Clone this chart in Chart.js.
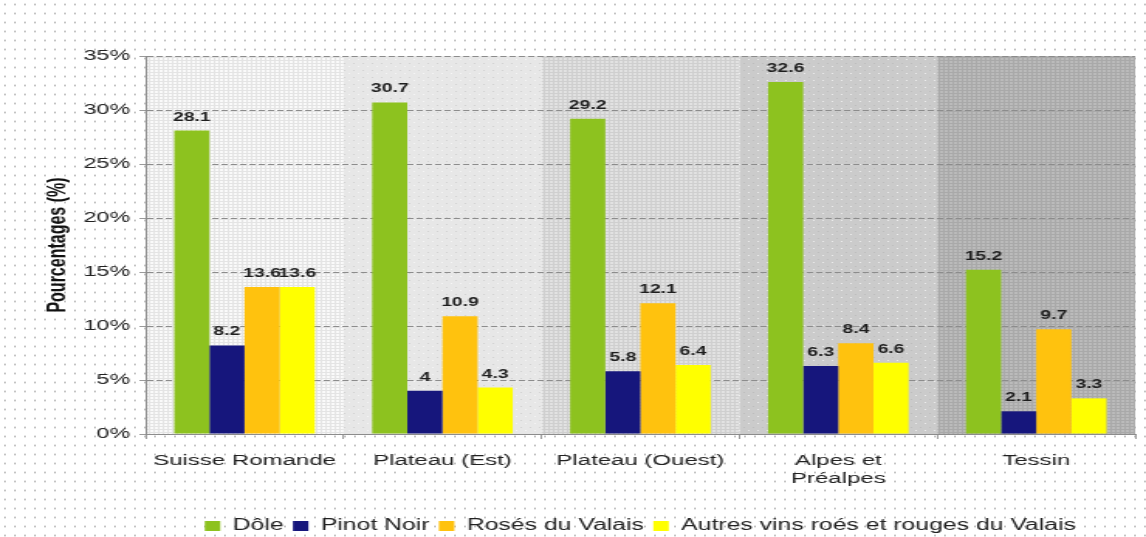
<!DOCTYPE html>
<html lang="fr">
<head>
<meta charset="utf-8">
<script src="https://cdn.jsdelivr.net/npm/chart.js@4/dist/chart.umd.min.js"></script>
<style>
html, body {
  margin: 0; padding: 0; width: 1146px; height: 537px; overflow: hidden;
  background-color: #fff;
  background-image: radial-gradient(circle, #c4c4c4 0.8px, transparent 1.3px);
  background-size: 10px 9px;
}
</style>
</head>
<body>
<canvas id="c" width="740" height="537" style="display:block;width:1146px;height:537px"></canvas>
<script>
// Régions et séries (valeurs en %)
const regions = ['Suisse Romande', 'Plateau (Est)', 'Plateau (Ouest)', ['Alpes et', 'Préalpes'], 'Tessin'];
const seriesNames = ['Dôle', 'Pinot Noir', 'Rosés du Valais', 'Autres vins roés et rouges du Valais'];
const dole = [28.1, 30.7, 29.2, 32.6, 15.2];
const pinotNoir = [8.2, 4, 5.8, 6.3, 2.1];
const rosesValais = [13.6, 10.9, 12.1, 8.4, 9.7];
const autresValais = [13.6, 4.3, 6.4, 6.6, 3.3];
const yTicks = [0, 5, 10, 15, 20, 25, 30, 35];

const seriesColors = ['#8dc21f', '#16167c', '#ffc20e', '#ffff00'];
const FONT = "'Liberation Sans', Arial, sans-serif";

// Small tiled textures for the region bands
function makePattern(w, h, base, paint) {
  const t = document.createElement('canvas');
  t.width = w; t.height = h;
  const g = t.getContext('2d');
  g.fillStyle = base; g.fillRect(0, 0, w, h);
  paint(g);
  return g.createPattern(t, 'repeat');
}
const ctx0 = document.getElementById('c').getContext('2d');
const bandFills = [
  makePattern(3, 3, '#fafafa', g => { g.fillStyle = '#e4e4e4'; g.fillRect(0, 0, 3, 1); g.fillRect(0, 0, 1, 3); }),
  makePattern(6, 7, '#e7e7e7', g => { g.fillStyle = '#f6f6f6'; g.fillRect(3, 3, 1, 1); g.fillStyle = '#d2d2d2'; g.fillRect(0, 0, 1, 1); }),
  makePattern(3, 3, '#e2e2e2', g => { g.fillStyle = '#cfcfcf'; g.fillRect(0, 0, 3, 1); g.fillRect(0, 0, 1, 3); }),
  makePattern(6, 7, '#cbcbcb', g => { g.fillStyle = '#ededed'; g.fillRect(3, 3, 1, 1); g.fillStyle = '#bdbdbd'; g.fillRect(0, 0, 1, 1); }),
  makePattern(3, 3, '#bbbbbb', g => { g.fillStyle = '#a9a9a9'; g.fillRect(0, 0, 3, 1); g.fillRect(0, 0, 1, 3); })
];

// Shaded background behind each region
const bandPlugin = {
  id: 'regionBands',
  beforeDraw(chart) {
    const { ctx, chartArea: a, scales: { x } } = chart;
    const step = x.getPixelForValue(1) - x.getPixelForValue(0);
    ctx.save();
    regions.forEach((r, i) => {
      const c = x.getPixelForValue(i);
      ctx.fillStyle = bandFills[i];
      ctx.fillRect(c - step / 2, a.top, step, a.bottom - a.top);
    });
    ctx.restore();
  }
};

// Value written above each bar
const valueLabels = {
  id: 'valueLabels',
  afterDatasetsDraw(chart) {
    const { ctx } = chart;
    ctx.save();
    ctx.font = 'bold 12.5px ' + FONT;
    ctx.fillStyle = '#1e1e1e';
    ctx.textAlign = 'center';
    ctx.textBaseline = 'alphabetic';
    chart.data.datasets.forEach((ds, di) => {
      chart.getDatasetMeta(di).data.forEach((bar, i) => {
        ctx.fillText(String(ds.data[i]), bar.x, bar.y - 10);
      });
    });
    ctx.restore();
  }
};

const seriesValues = [dole, pinotNoir, rosesValais, autresValais];

new Chart(ctx0, {
  type: 'bar',
  data: {
    labels: regions,
    datasets: seriesNames.map((name, i) => ({
      label: name,
      data: seriesValues[i],
      backgroundColor: seriesColors[i],
      borderWidth: 0,
      categoryPercentage: 0.71,
      barPercentage: 1.0
    }))
  },
  options: {
    responsive: false,
    devicePixelRatio: 1,
    animation: false,
    layout: { padding: { left: 28, right: 7, top: 56, bottom: -7 } },
    plugins: {
      tooltip: { enabled: false },
      legend: {
        position: 'bottom',
        fullSize: false,
        labels: {
          boxWidth: 10, boxHeight: 10, padding: 6,
          color: '#222', font: { family: FONT, size: 16 }
        }
      }
    },
    scales: {
      x: {
        grid: { offset: true, drawOnChartArea: false, drawTicks: true, tickLength: 5, color: '#9a9a9a' },
        border: { color: '#8c8c8c' },
        ticks: { color: '#222', font: { family: FONT, size: 15.5 }, padding: 12, maxRotation: 0, autoSkip: false },
        afterFit(s) { s.height = 78; }
      },
      y: {
        min: 0, max: 35,
        afterBuildTicks(s) { s.ticks = yTicks.map(v => ({ value: v })); },
        afterFit(s) { s.width = 66; },
        grid: { color: '#8c8c8c', lineWidth: 1, drawTicks: true, tickLength: 4, tickColor: '#9a9a9a' },
        border: { color: '#8c8c8c', dash: [4, 2] },
        ticks: { color: '#222', font: { family: FONT, size: 15 }, padding: 6, callback: v => v + '%' },
        title: {
          display: true, text: 'Pourcentages (%)', padding: 0,
          color: '#111', font: { family: FONT, size: 16, weight: 'bold' }
        }
      }
    }
  },
  plugins: [bandPlugin, valueLabels]
});
</script>
</body>
</html>
